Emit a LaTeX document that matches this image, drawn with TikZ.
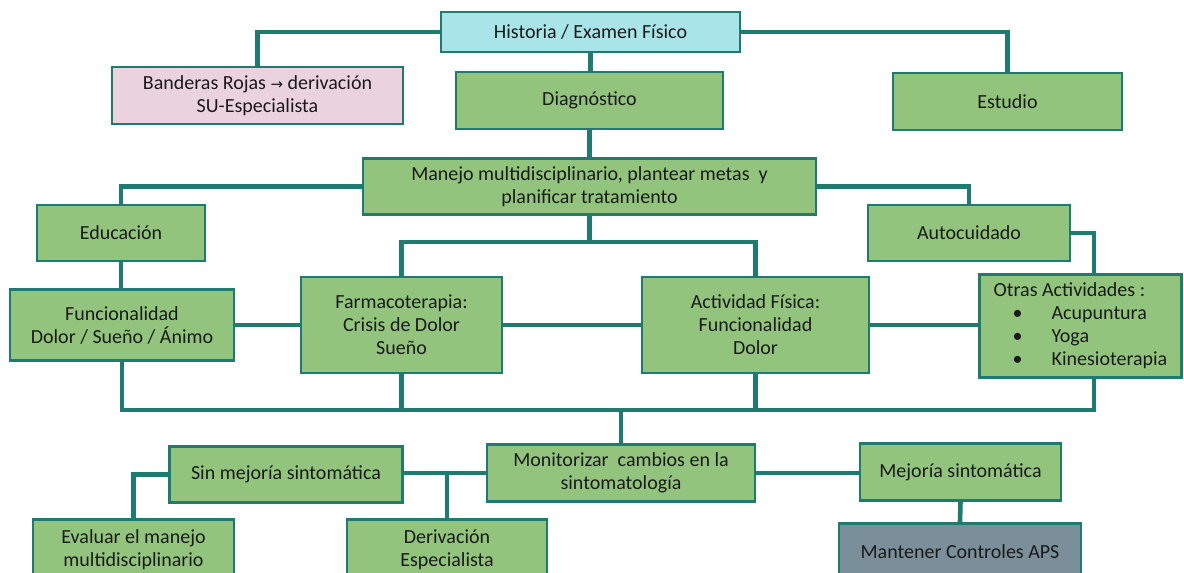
\documentclass[tikz,border=0pt]{standalone}
\usepackage{fontspec}
\setmainfont{Carlito}
\newfontfamily\flecha{DejaVu Sans}
\usepackage{xcolor}
\definecolor{borde}{HTML}{1F7B6F}
\definecolor{verde}{HTML}{93C47D}
\definecolor{celeste}{HTML}{A8E4E8}
\definecolor{rosa}{HTML}{EAD3DC}
\definecolor{gris}{HTML}{7A8F9A}
\definecolor{texto}{HTML}{1A1A1A}

\begin{document}
\begin{tikzpicture}[x=1pt, y=-1pt,
	caja/.style={draw=borde, line width=2.7pt, fill=verde, text=texto, align=center,
		inner sep=0pt, font=\fontsize{20}{23}\selectfont},
	enlace/.style={draw=borde, line width=4.6pt}]

	\useasboundingbox (0, 0) rectangle (1184, 573);
	\clip (0, 0) rectangle (1184, 573);

	% fila superior
	\node [caja, fill=celeste, minimum width=299, minimum height=40] (hist) at (590.5, 32) {Historia / Examen Físico};
	\node [caja, fill=rosa, minimum width=291, minimum height=57] (rojas) at (257.5, 95.5) {Banderas Rojas {\flecha\fontsize{15}{15}\selectfont →} derivación\\SU-Especialista};
	\node [caja, minimum width=267, minimum height=57] (diag) at (589.5, 100.5) {Diagnóstico};
	\node [caja, minimum width=229, minimum height=57] (estud) at (1007.5, 101.5) {Estudio};
	\node [caja, minimum width=453, minimum height=56] (manejo) at (589.5, 186.5) {Manejo multidisciplinario, plantear metas~ y\\planificar tratamiento};

	% tratamiento
	\node [caja, minimum width=168, minimum height=56] (educ) at (121, 233) {Educación};
	\node [caja, minimum width=202, minimum height=56] (auto) at (969, 233) {Autocuidado};
	\node [caja, minimum width=224, minimum height=71] (func) at (122, 325) {Funcionalidad\\Dolor / Sueño / Ánimo};
	\node [caja, minimum width=201, minimum height=96] (farma) at (401.5, 325) {Farmacoterapia:\\Crisis de Dolor\\Sueño};
	\node [caja, minimum width=227, minimum height=96] (activ) at (755.5, 325) {Actividad Física:\\Funcionalidad\\Dolor};
	\node [caja, minimum width=202, minimum height=103, align=left] (otras) at (1080.5, 326) {Otras Actividades :\\
		\makebox[58pt][l]{\hspace{19pt}\textbullet}Acupuntura\\
		\makebox[58pt][l]{\hspace{19pt}\textbullet}Yoga\\
		\makebox[58pt][l]{\hspace{19pt}\textbullet}Kinesioterapia};

	% seguimiento
	\node [caja, minimum width=268, minimum height=57] (monit) at (621, 473) {Monitorizar~ cambios en la\\sintomatología};
	\node [caja, minimum width=233, minimum height=56] (sinmej) at (286, 474.5) {Sin mejoría sintomática};
	\node [caja, minimum width=201, minimum height=57] (mejor) at (960.5, 472) {Mejoría sintomática};
	\node [caja, minimum width=201, minimum height=60] (evalu) at (133.5, 549.5) {Evaluar el manejo\\multidisciplinario};
	\node [caja, minimum width=200, minimum height=60] (deriv) at (447, 549.5) {Derivación\\Especialista};
	\node [caja, fill=gris, minimum width=242, minimum height=56] (mant) at (960, 551.5) {Mantener Controles APS};

	\coordinate (split) at (589.5, 242);
	\coordinate (busR) at (1094, 410);

	\draw [enlace] (hist.west) -| (rojas.north);
	\draw [enlace] (hist.east) -| (estud.north);
	\draw [enlace] (hist.south) -- (hist.south |- diag.north);
	\draw [enlace] (diag.south) -- (diag.south |- manejo.north);
	\draw [enlace] (manejo.west) -| (educ.north);
	\draw [enlace] (manejo.east) -| (auto.north);
	\draw [enlace] (manejo.south) -- (split);
	\draw [enlace] (farma.north) |- (split) -| (activ.north);

	\draw [enlace] (educ.south) -- (educ.south |- func.north);
	\draw [enlace] (func.east) -- (farma.west);
	\draw [enlace] (farma.east) -- (activ.west);
	\draw [enlace] (activ.east) -- (activ.east -| otras.west);
	\draw [enlace] (auto.east) -| (busR |- otras.north);

	\draw [enlace] (func.south) |- (busR) -- (busR |- otras.south);
	\draw [enlace] (farma.south) -- (farma.south |- busR);
	\draw [enlace] (activ.south) -- (activ.south |- busR);
	\draw [enlace] (monit.north) -- (monit.north |- busR);

	\draw [enlace] (monit.west) -- (monit.west -| sinmej.east);
	\draw [enlace] (deriv.north) -- (deriv.north |- monit.west);
	\draw [enlace] (sinmej.west) -| (evalu.north);
	\draw [enlace] (monit.east) -- (monit.east -| mejor.west);
	\draw [enlace] (mejor.south) -- (mant.north);

\end{tikzpicture}
\end{document}
